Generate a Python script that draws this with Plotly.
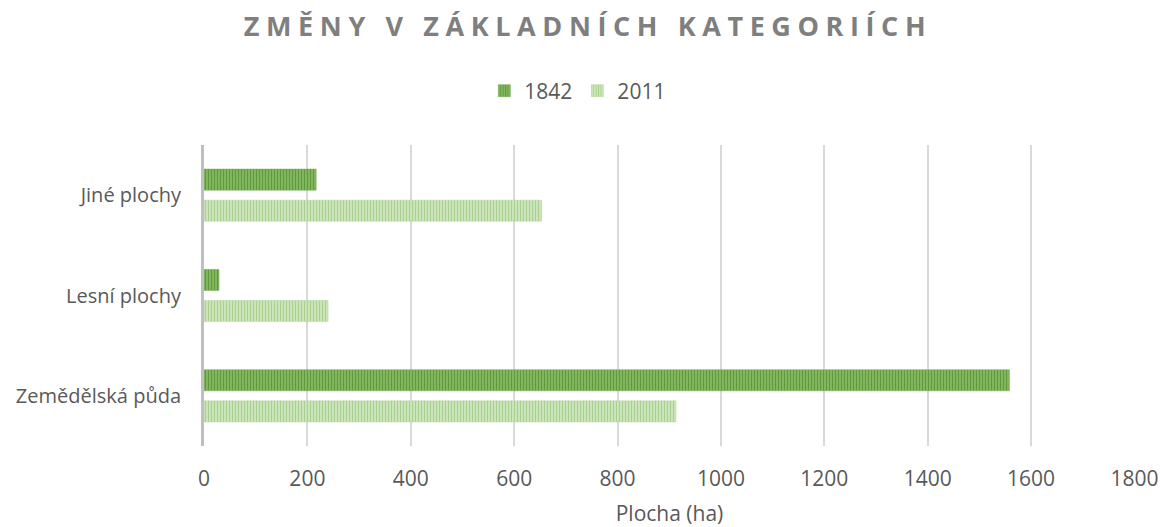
import plotly.graph_objects as go

categories = ["Zemědělská půda", "Lesní plochy", "Jiné plochy"]
values_1842 = [1558, 29, 217]
values_2011 = [913, 240, 653]
x_ticks = [0, 200, 400, 600, 800, 1000, 1200, 1400, 1600, 1800]

FONT = "Open Sans, Lato, sans-serif"
TXT = "#595959"
W, H = 1173, 527

fig = go.Figure()
fig.add_trace(go.Bar(
    name="1842", y=categories, x=values_1842, orientation="h",
    width=0.21, offset=0.05,
    marker=dict(color="#8cbf6a", line=dict(width=0.5, color="#6ea64a"),
                pattern=dict(shape="|", size=3, solidity=0.5,
                             fgcolor="#5f9a3c", bgcolor="#8cbf6a", fillmode="replace")),
))
fig.add_trace(go.Bar(
    name="2011", y=categories, x=values_2011, orientation="h",
    width=0.21, offset=-0.26,
    marker=dict(color="#cfe6c0", line=dict(width=0.5, color="#b5d8a0"),
                pattern=dict(shape="|", size=3, solidity=0.5,
                             fgcolor="#a9d18e", bgcolor="#d6ebc9", fillmode="replace")),
))

fig.update_layout(
    width=W, height=H,
    barmode="overlay",
    paper_bgcolor="white", plot_bgcolor="white",
    font=dict(family=FONT, color=TXT, size=21),
    title=dict(text='<span style="letter-spacing:6.6px">ZMĚNY V ZÁKLADNÍCH KATEGORIÍCH</span>',
               x=580 / W, xanchor="center", xref="container",
               y=1 - 19 / H, yanchor="middle", yref="container",
               font=dict(size=27, color="#7f7f7f", family=FONT, weight="bold")),
    legend=dict(orientation="h", x=0.4858, xanchor="center", xref="container",
                y=1 - 83 / H, yanchor="middle", yref="container",
                font=dict(size=21, color=TXT), traceorder="normal",
                itemwidth=30),
    margin=dict(l=196, r=46, t=137, b=89, autoexpand=False),
    xaxis=dict(range=[0, 1801], tickvals=x_ticks, showgrid=True, gridcolor="#d9d9d9",
               gridwidth=1.5, zeroline=False, showline=False, ticks="",
               automargin=False, ticklabelstandoff=18,
               tickfont=dict(size=21, color=TXT),
               title=dict(text="Plocha (ha)", font=dict(size=21, color=TXT))),
    yaxis=dict(showline=True, linecolor="#bfbfbf", linewidth=3, ticks="",
               automargin=False, ticklabelstandoff=16,
               tickfont=dict(size=20, color=TXT), showgrid=False,
               categoryorder="array", categoryarray=categories),
)

fig.write_html("out.html")
